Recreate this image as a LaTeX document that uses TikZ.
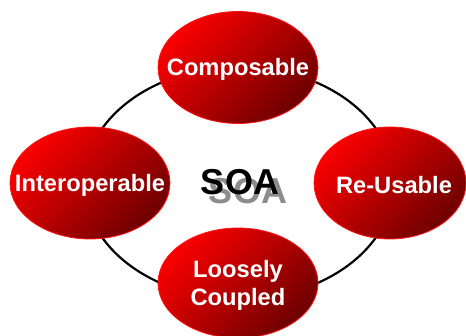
\documentclass[tikz,border=0pt]{standalone}
\usepackage{fontspec}
\setmainfont{Liberation Sans}
\usetikzlibrary{shapes.geometric}
\definecolor{soaLight}{RGB}{250,0,0}
\definecolor{soaDark}{RGB}{110,0,0}
\definecolor{soaEdge}{RGB}{255,20,20}
\definecolor{soaShadow}{RGB}{140,140,140}
\tikzset{
  bubble/.style={ellipse, draw=soaEdge, line width=0.8pt, inner sep=0pt,
    minimum width=160pt, minimum height=112pt, shading=axis,
    top color=soaLight, bottom color=soaDark, shading angle=45},
  bubbletext/.style={text=white, inner sep=0pt, align=center,
    font=\bfseries\fontsize{23.7}{28}\selectfont},
  ringline/.style={ellipse, draw=black, line width=2.2pt, inner sep=0pt,
    minimum width=310pt, minimum height=232pt},
  title/.style={font=\bfseries\fontsize{36}{40}\selectfont, inner sep=0pt}
}
\begin{document}
\begin{tikzpicture}[x=1pt,y=-1pt]
\useasboundingbox (0,0) rectangle (466,336);
\clip (0,0) rectangle (466,336);
\fill[white] (0,0) rectangle (466,336);
\node[ringline] (ring) at (239,183) {};
\node[title, text=soaShadow] (shadow) at (248,191.5) {SOA};
\node[title, text=black] (soa) at (240,182.5) {SOA};
\node[bubble] (comp) at (238,67.5) {};
\node[bubble] (inter) at (90,183) {};
\node[bubble, minimum width=152pt] (reuse) at (390,183) {};
\node[bubble, minimum height=110pt] (loose) at (238,283) {};
\node[bubbletext] (compt) at ([yshift=-1.5pt]comp.center) {Composable};
\node[bubbletext] (intert) at ([yshift=-2.5pt]inter.center) {Interoperable};
\node[bubbletext] (reuset) at ([xshift=4pt,yshift=-2.5pt]reuse.center) {Re-Usable};
\node[bubbletext] (looset) at ([yshift=-2pt]loose.center) {Loosely\\Coupled};
\end{tikzpicture}
\end{document}
